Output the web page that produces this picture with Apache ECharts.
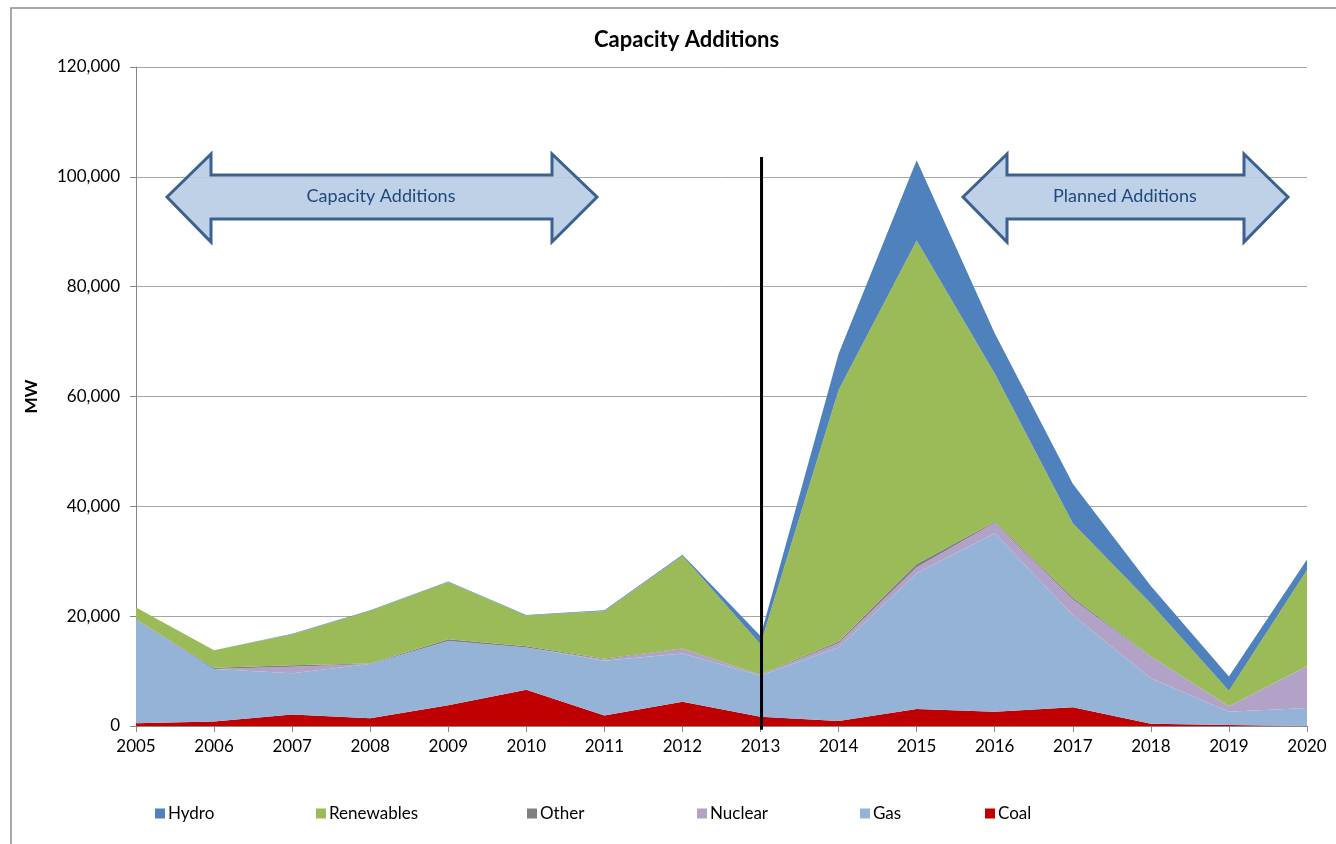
<!DOCTYPE html>
<html>
<head>
<meta charset="utf-8">
<script src="https://cdn.jsdelivr.net/npm/echarts@6/dist/echarts.min.js"></script>
<style>
html,body{margin:0;padding:0;background:#fff;}
#chart{width:1336px;height:844px;}
</style>
</head>
<body>
<div id="chart"></div>
<script>
const years = ['2005','2006','2007','2008','2009','2010','2011','2012','2013','2014','2015','2016','2017','2018','2019','2020'];
const coal       = [500, 800, 2100, 1400, 3800, 6600, 1900, 4400, 1700, 900, 3100, 2600, 3400, 400, 200, 0];
const gas        = [18900, 9600, 7500, 9900, 11700, 7700, 10000, 8800, 7500, 13400, 24700, 32500, 16800, 8300, 2400, 3300];
const nuclear    = [0, 0, 1200, 0, 0, 0, 200, 800, 100, 800, 1100, 1900, 2900, 3900, 1000, 7600];
const other      = [0, 200, 250, 100, 300, 200, 150, 100, 100, 300, 600, 200, 300, 100, 0, 0];
const renewables = [2200, 3200, 5650, 9600, 10400, 5600, 8700, 16900, 5500, 45800, 58900, 27000, 13500, 9600, 2800, 17500];
const hydro      = [0, 0, 100, 100, 100, 100, 150, 200, 1500, 6600, 14600, 7300, 7200, 3200, 2600, 1900];
const yTicks = [0, 20000, 40000, 60000, 80000, 100000, 120000];
const dividerYear = '2013';
const dividerRange = [-700, 103600];

const FONT = 'Lato';
const colors = {Hydro:'#4f81bd', Renewables:'#9bbb59', Other:'#7f7f7f', Nuclear:'#b3a2c7', Gas:'#95b3d7', Coal:'#c00000'};

function areaSeries(name, data) {
  return {
    name: name, type: 'line', stack: 'total', data: data,
    symbol: 'none', showSymbol: false, smooth: false,
    lineStyle: {width: 0, color: colors[name]},
    itemStyle: {color: colors[name]},
    areaStyle: {color: colors[name], opacity: 1},
    emphasis: {disabled: true}, silent: true, z: 2
  };
}

function arrowPoints(x1, x2, hb1, hb2, yTop, yBot, bTop, bBot, yMid) {
  return [[x1, yMid], [hb1, yTop], [hb1, bTop], [hb2, bTop], [hb2, yTop], [x2, yMid],
          [hb2, yBot], [hb2, bBot], [hb1, bBot], [hb1, yBot]];
}

const legendNames = ['Hydro','Renewables','Other','Nuclear','Gas','Coal'];
const legendLeft = [150, 311, 522, 692, 855, 980];
const legends = legendNames.map((n, i) => ({
  data: [n], left: legendLeft[i], top: 800, orient: 'horizontal',
  itemWidth: 10, itemHeight: 10, itemGap: 0, icon: 'rect', selectedMode: false,
  textStyle: {fontFamily: FONT, fontSize: 17, color: '#000', padding: [0,0,0,-2]}
}));

const baseGraphics = [
  {type: 'rect', shape: {x: 11, y: 8, width: 1400, height: 900}, style: {fill: 'none', stroke: '#8c8c8c', lineWidth: 1.5}, z: 0, silent: true},
  {type: 'polygon', shape: {points: arrowPoints(167, 597, 211, 552, 154, 242, 175, 219, 197)},
    style: {fill: 'rgba(185,205,229,0.92)', stroke: '#3c6190', lineWidth: 3, lineJoin: 'miter'}, z: 20, silent: true},
  {type: 'text', style: {text: 'Capacity Additions', x: 381, y: 196, align: 'center', verticalAlign: 'middle',
    fontFamily: FONT, fontSize: 18, fill: '#1f497d'}, z: 21, silent: true},
  {type: 'polygon', shape: {points: arrowPoints(963, 1288, 1007, 1244, 154, 242, 175, 219, 197)},
    style: {fill: 'rgba(185,205,229,0.92)', stroke: '#3c6190', lineWidth: 3, lineJoin: 'miter'}, z: 20, silent: true},
  {type: 'text', style: {text: 'Planned Additions', x: 1125, y: 196, align: 'center', verticalAlign: 'middle',
    fontFamily: FONT, fontSize: 18, fill: '#1f497d'}, z: 21, silent: true}
];

const chart = echarts.init(document.getElementById('chart'));
chart.setOption({
  animation: false,
  backgroundColor: '#fff',
  title: {
    text: 'Capacity Additions', left: 589, top: 24,
    textStyle: {fontFamily: FONT, fontSize: 22, fontWeight: 'bold', color: '#000'}
  },
  legend: legends,
  grid: {left: 136, right: 29, top: 67, bottom: 118, containLabel: false},
  xAxis: {
    type: 'category', data: years, boundaryGap: false,
    axisLine: {lineStyle: {color: '#868686', width: 1}},
    axisTick: {show: true, length: 6, alignWithLabel: true, lineStyle: {color: '#868686'}},
    axisLabel: {fontFamily: FONT, fontSize: 17, color: '#000', margin: 12, interval: 0},
    splitLine: {show: false}
  },
  yAxis: {
    type: 'value', min: 0, max: 120000, interval: 20000,
    name: 'MW', nameLocation: 'middle', nameGap: 96, nameRotate: 90,
    nameTextStyle: {fontFamily: FONT, fontSize: 17, fontWeight: 'bold', color: '#000'},
    axisLine: {show: true, lineStyle: {color: '#868686'}},
    axisTick: {show: true, length: 6, lineStyle: {color: '#868686'}},
    axisLabel: {fontFamily: FONT, fontSize: 17, color: '#000', margin: 16,
      formatter: v => yTicks.indexOf(v) >= 0 ? v.toLocaleString('en-US') : ''},
    splitLine: {show: true, lineStyle: {color: '#a6a6a6', width: 1}}
  },
  series: [
    areaSeries('Coal', coal),
    areaSeries('Gas', gas),
    areaSeries('Nuclear', nuclear),
    areaSeries('Other', other),
    areaSeries('Renewables', renewables),
    areaSeries('Hydro', hydro)
  ],
  graphic: baseGraphics
});

const p1 = chart.convertToPixel({gridIndex: 0}, [dividerYear, dividerRange[0]]);
const p2 = chart.convertToPixel({gridIndex: 0}, [dividerYear, dividerRange[1]]);
chart.setOption({
  graphic: baseGraphics.concat([{
    type: 'line', shape: {x1: p1[0] + 1, y1: p1[1], x2: p2[0] + 1, y2: p2[1]},
    style: {stroke: '#000', lineWidth: 3}, z: 15, silent: true
  }])
});
</script>
</body>
</html>
